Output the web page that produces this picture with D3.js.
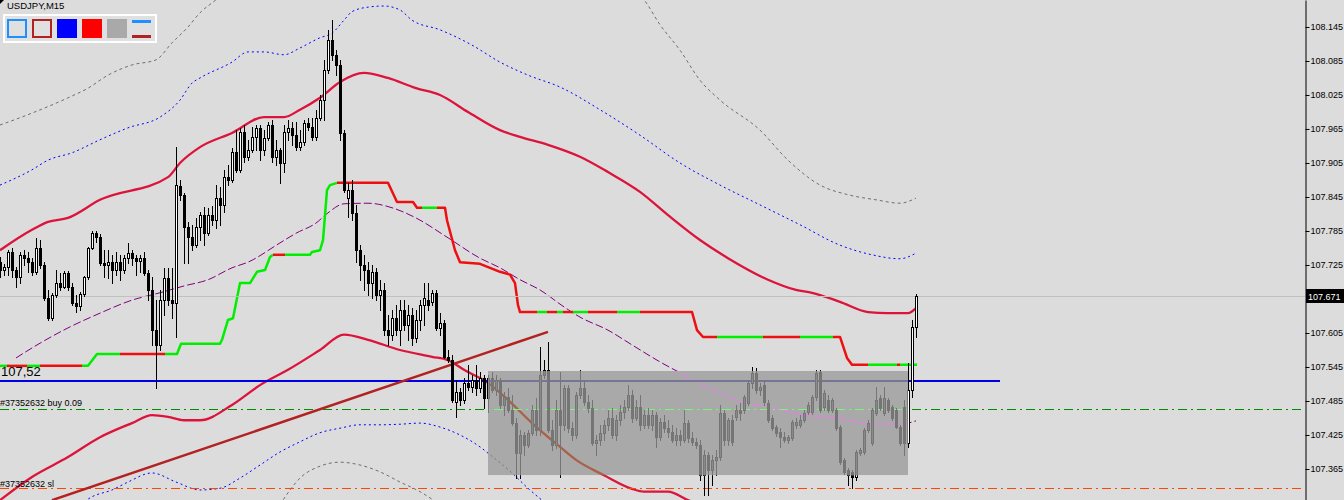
<!DOCTYPE html>
<html><head><meta charset="utf-8">
<script src="https://cdn.jsdelivr.net/npm/d3@7"></script>
<style>html,body{margin:0;padding:0;background:#dcdcdc;overflow:hidden}svg{display:block}</style>
</head><body><svg id="c" width="1344" height="500"></svg>
<script>
// ---------- DATA ----------
const symbolTitle = "USDJPY,M15";
// candles: [open, high, low, close], one per M15 bar
const candles = [
[107.730,107.739,107.704,107.716],[107.716,107.727,107.707,107.721],[107.721,107.751,107.707,107.748],[107.748,107.755,107.704,107.716],[107.716,107.721,107.686,107.704],
[107.704,107.748,107.693,107.743],[107.743,107.751,107.725,107.737],[107.737,107.748,107.713,107.730],[107.730,107.737,107.707,107.713],[107.713,107.773,107.709,107.755],
[107.755,107.769,107.720,107.725],[107.725,107.730,107.663,107.667],[107.667,107.681,107.628,107.631],[107.631,107.676,107.628,107.672],[107.672,107.716,107.668,107.693],
[107.693,107.711,107.681,107.686],[107.686,107.714,107.684,107.711],[107.711,107.714,107.681,107.686],[107.686,107.693,107.654,107.658],[107.658,107.672,107.642,107.653],
[107.653,107.677,107.646,107.674],[107.674,107.706,107.670,107.704],[107.704,107.757,107.700,107.755],[107.755,107.785,107.753,107.781],[107.781,107.785,107.766,107.774],
[107.774,107.780,107.725,107.729],[107.729,107.751,107.704,107.725],[107.725,107.751,107.702,107.730],[107.730,107.743,107.693,107.716],[107.716,107.748,107.707,107.730],
[107.730,107.743,107.699,107.716],[107.716,107.743,107.711,107.737],[107.737,107.764,107.729,107.746],[107.746,107.751,107.725,107.737],[107.737,107.743,107.707,107.732],
[107.732,107.743,107.713,107.737],[107.737,107.748,107.707,107.711],[107.711,107.716,107.663,107.681],[107.681,107.704,107.584,107.610],[107.610,107.663,107.508,107.584],
[107.584,107.681,107.575,107.663],[107.663,107.720,107.637,107.702],[107.702,107.720,107.654,107.663],[107.663,107.720,107.631,107.658],[107.658,107.933,107.598,107.866],
[107.864,107.875,107.840,107.849],[107.849,107.852,107.729,107.792],[107.792,107.801,107.729,107.774],[107.774,107.796,107.751,107.760],[107.760,107.808,107.757,107.792],
[107.792,107.819,107.769,107.813],[107.813,107.827,107.760,107.781],[107.781,107.826,107.778,107.813],[107.813,107.829,107.796,107.804],[107.804,107.866,107.790,107.843],
[107.843,107.863,107.796,107.831],[107.831,107.893,107.819,107.880],[107.880,107.901,107.866,107.875],[107.875,107.931,107.871,107.924],[107.924,107.963,107.889,107.893],
[107.893,107.967,107.889,107.960],[107.960,107.972,107.907,107.916],[107.916,107.946,107.910,107.928],[107.928,107.968,107.924,107.951],[107.951,107.972,107.928,107.967],
[107.967,107.972,107.910,107.928],[107.928,107.963,107.919,107.949],[107.949,107.977,107.946,107.972],[107.972,107.981,107.907,107.916],[107.916,107.946,107.901,107.928],
[107.928,107.931,107.870,107.905],[107.905,107.972,107.889,107.960],[107.960,107.981,107.946,107.967],[107.967,107.977,107.937,107.954],[107.954,107.977,107.928,107.933],
[107.933,107.963,107.928,107.942],[107.942,107.981,107.937,107.975],[107.975,107.984,107.963,107.968],[107.968,107.984,107.946,107.951],[107.951,107.999,107.946,107.984],
[107.984,108.025,107.981,108.016],[108.016,108.087,107.981,108.069],[108.069,108.140,108.064,108.122],[108.122,108.157,108.087,108.096],[108.096,108.104,108.060,108.078],
[108.078,108.087,107.946,107.958],[107.958,107.963,107.854,107.857],[107.843,107.870,107.810,107.857],[107.857,107.875,107.804,107.817],[107.817,107.831,107.730,107.751],
[107.751,107.760,107.699,107.725],[107.725,107.743,107.681,107.716],[107.716,107.730,107.672,107.693],[107.693,107.725,107.667,107.713],[107.713,107.720,107.663,107.672],
[107.672,107.699,107.646,107.681],[107.681,107.693,107.602,107.610],[107.610,107.637,107.584,107.602],[107.602,107.646,107.593,107.631],[107.631,107.654,107.602,107.610],
[107.610,107.663,107.584,107.646],[107.646,107.663,107.610,107.619],[107.619,107.654,107.593,107.637],[107.637,107.649,107.584,107.596],[107.596,107.646,107.589,107.628],
[107.628,107.663,107.610,107.654],[107.654,107.693,107.619,107.667],[107.663,107.693,107.646,107.654],[107.660,107.681,107.654,107.676],[107.676,107.681,107.610,107.614],
[107.614,107.640,107.602,107.623],[107.623,107.628,107.561,107.563],[107.563,107.575,107.554,107.557],[107.557,107.566,107.483,107.487],[107.483,107.522,107.457,107.501],
[107.501,107.508,107.478,107.487],[107.487,107.526,107.481,107.517],[107.517,107.549,107.504,107.510],[107.510,107.531,107.501,107.522],[107.522,107.549,107.496,107.508],
[107.508,107.536,107.501,107.526],[107.526,107.531,107.473,107.490],[107.490,107.531,107.466,107.526],[107.526,107.536,107.501,107.504],[107.504,107.531,107.496,107.522],
[107.522,107.526,107.473,107.478],[107.478,107.501,107.460,107.492],[107.492,107.508,107.466,107.469],[107.469,107.496,107.443,107.446],[107.446,107.455,107.349,107.393],
[107.393,107.434,107.349,107.425],[107.425,107.430,107.390,107.407],[107.407,107.434,107.404,107.429],[107.429,107.478,107.425,107.469],[107.469,107.490,107.425,107.434],
[107.434,107.580,107.425,107.531],[107.531,107.557,107.526,107.540],[107.540,107.589,107.430,107.434],[107.434,107.451,107.399,107.407],[107.407,107.487,107.402,107.469],
[107.469,107.536,107.351,107.443],[107.443,107.513,107.434,107.508],[107.508,107.513,107.430,107.437],[107.437,107.448,107.416,107.425],[107.425,107.501,107.420,107.496],
[107.496,107.540,107.490,107.508],[107.508,107.522,107.478,107.483],[107.483,107.496,107.466,107.473],[107.473,107.487,107.407,107.411],[107.411,107.425,107.390,107.416],
[107.416,107.443,107.407,107.429],[107.429,107.451,107.416,107.443],[107.443,107.469,107.434,107.455],[107.455,107.473,107.420,107.425],[107.425,107.460,107.416,107.451],
[107.451,107.478,107.443,107.466],[107.466,107.487,107.455,107.474],[107.474,107.513,107.469,107.496],[107.496,107.504,107.448,107.455],[107.455,107.487,107.451,107.474],
[107.474,107.496,107.434,107.443],[107.443,107.469,107.437,107.460],[107.460,107.473,107.437,107.443],[107.443,107.469,107.434,107.460],[107.460,107.466,107.404,107.421],
[107.421,107.455,107.416,107.448],[107.448,107.460,107.430,107.437],[107.437,107.451,107.421,107.430],[107.430,107.443,107.413,107.416],[107.416,107.437,107.407,107.425],
[107.425,107.434,107.407,107.416],[107.416,107.469,107.413,107.446],[107.446,107.451,107.413,107.420],[107.420,107.430,107.407,107.413],[107.413,107.420,107.402,107.407],
[107.407,107.416,107.346,107.354],[107.354,107.399,107.319,107.390],[107.390,107.395,107.319,107.363],[107.363,107.390,107.337,107.381],[107.381,107.399,107.354,107.386],
[107.386,107.478,107.381,107.464],[107.464,107.469,107.407,107.416],[107.416,107.455,107.407,107.451],[107.451,107.460,107.407,107.413],[107.457,107.478,107.451,107.469],
[107.469,107.481,107.451,107.464],[107.469,107.496,107.464,107.492],[107.481,107.522,107.478,107.517],[107.517,107.545,107.508,107.534],[107.534,107.543,107.499,107.504],
[107.504,107.517,107.496,107.510],[107.513,107.522,107.478,107.483],[107.481,107.487,107.448,107.451],[107.455,107.460,107.434,107.437],[107.439,107.443,107.423,107.429],
[107.430,107.437,107.404,107.421],[107.421,107.430,107.413,107.416],[107.416,107.425,107.411,107.421],[107.420,107.451,107.416,107.448],[107.443,107.455,107.437,107.448],
[107.443,107.460,107.439,107.451],[107.451,107.469,107.448,107.464],[107.466,107.483,107.462,107.478],[107.466,107.496,107.462,107.492],[107.492,107.540,107.487,107.534],
[107.536,107.540,107.466,107.469],[107.474,107.504,107.469,107.499],[107.487,107.496,107.466,107.469],[107.469,107.490,107.466,107.487],[107.469,107.473,107.434,107.437],
[107.439,107.443,107.374,107.377],[107.381,107.384,107.356,107.360],[107.363,107.367,107.337,107.354],[107.360,107.363,107.331,107.351],[107.351,107.399,107.346,107.395],
[107.393,107.402,107.390,107.399],[107.395,107.437,107.391,107.434],[107.434,107.451,107.430,107.446],[107.411,107.473,107.407,107.469],[107.464,107.510,107.460,107.487],
[107.490,107.496,107.469,107.473],[107.464,107.510,107.460,107.490],[107.487,107.490,107.466,107.469],[107.474,107.478,107.451,107.455],[107.469,107.473,107.437,107.439],
[107.439,107.443,107.407,107.411],[107.474,107.487,107.390,107.411],[107.411,107.552,107.404,107.504],[107.504,107.628,107.492,107.616],[107.616,107.674,107.598,107.671]
];
// indicator lines: [bar index, price]
const grayUpL = [[0,107.972],[8,107.993],[17,108.020],[22,108.037],[27,108.060],[33,108.078],[39,108.087],[43,108.117],[47,108.145],[50,108.170],[54,108.193],[59,108.224]];
const grayUpR = [[157,108.219],[161,108.193],[165,108.149],[170,108.104],[175,108.051],[180,108.016],[190,107.963],[197,107.910],[205,107.866],[212,107.849],[219,107.840],[225,107.834],[229,107.843]];
const grayLow = [[70,107.302],[75,107.349],[80,107.370],[85,107.377],[90,107.372],[95,107.360],[100,107.342],[105,107.325],[109,107.307]];
const blueUp = [[0,107.866],[8,107.893],[12,107.910],[18,107.923],[25,107.946],[32,107.967],[40,107.986],[45,108.016],[48,108.046],[50,108.055],[58,108.083],[62,108.101],[66,108.101],[71,108.096],[75,108.108],[80,108.126],[83,108.134],[86,108.157],[88,108.172],[92,108.180],[96,108.182],[100,108.175],[103,108.157],[110,108.140],[118,108.113],[125,108.083],[132,108.060],[140,108.039],[150,107.999],[160,107.954],[170,107.905],[180,107.866],[190,107.831],[200,107.796],[210,107.760],[218,107.743],[225,107.736],[229,107.746]];
const blueLow = [[20,107.302],[23,107.316],[28,107.328],[32,107.342],[38,107.358],[44,107.342],[50,107.328],[55,107.331],[60,107.349],[65,107.372],[70,107.395],[75,107.413],[80,107.429],[85,107.437],[90,107.443],[95,107.443],[100,107.444],[105,107.446],[110,107.439],[115,107.425],[120,107.404],[122,107.393],[128,107.358],[132,107.331],[136,107.307]];
const crimUp = [[0,107.751],[8,107.787],[12,107.801],[17,107.808],[25,107.840],[42,107.880],[45,107.905],[50,107.933],[58,107.958],[66,107.986],[71,107.986],[75,107.999],[80,108.020],[85,108.048],[91,108.064],[97,108.055],[104,108.037],[110,108.025],[117,107.995],[125,107.963],[130,107.951],[137,107.937],[145,107.916],[152,107.889],[160,107.854],[167,107.813],[175,107.769],[182,107.737],[192,107.699],[199,107.681],[203,107.676],[210,107.660],[217,107.642],[222,107.640],[227,107.640],[229,107.649]];
const crimLow = [[0,107.310],[8,107.351],[17,107.386],[25,107.421],[33,107.446],[38,107.460],[42,107.457],[46,107.451],[50,107.451],[58,107.478],[65,107.513],[72,107.540],[80,107.575],[86,107.602],[92,107.593],[100,107.575],[108,107.563],[112,107.557],[116,107.540],[122,107.517],[127,107.487],[133,107.446],[140,107.404],[144,107.381],[151,107.354],[158,107.330],[161,107.325],[167,107.325],[172,107.310],[175,107.302]];
const purpleMA = [[4,107.561],[10,107.587],[17,107.614],[25,107.640],[33,107.663],[40,107.676],[46,107.688],[52,107.699],[58,107.720],[62,107.730],[70,107.764],[74,107.781],[79,107.799],[82,107.817],[86,107.833],[92,107.834],[98,107.826],[104,107.808],[112,107.773],[120,107.737],[125,107.720],[130,107.699],[135,107.681],[141,107.651],[145,107.633],[152,107.610],[158,107.584],[165,107.554],[175,107.517],[180,107.499],[187,107.480],[192,107.476],[197,107.466],[202,107.459],[208,107.457],[214,107.448],[218,107.444],[225,107.444],[229,107.450]];
// stepped trailing line: [bar index, price, colour of the segment that starts here]
const stepLine = [[0,107.547,'g'],[1.75,107.547,'r'],[6.75,107.547,'g'],[10,107.547,'r'],[20.5,107.547,'g'],[22,107.547,'g'],[24.25,107.568,'g'],[30,107.568,'r'],[41.25,107.568,'g'],[44.25,107.568,'g'],[45.25,107.586,'g'],[55,107.586,'g'],[55.5,107.593,'g'],[57,107.628,'g'],[58.25,107.631,'g'],[60,107.693,'g'],[62.5,107.693,'g'],[64.25,107.713,'g'],[66.25,107.716,'g'],[67.5,107.739,'g'],[68.25,107.743,'r'],[71.25,107.743,'g'],[77.5,107.743,'g'],[78,107.748,'g'],[80,107.751,'g'],[80.75,107.769,'g'],[81.75,107.857,'g'],[82.5,107.866,'g'],[84.25,107.870,'r'],[97,107.870,'r'],[99.25,107.836,'r'],[103.25,107.836,'r'],[104.25,107.826,'r'],[105.5,107.826,'g'],[109.25,107.826,'r'],[111.25,107.826,'r'],[111.75,107.804,'r'],[113.75,107.751,'r'],[115,107.730,'r'],[120,107.727,'r'],[122.5,107.720,'r'],[125,107.713,'r'],[127.5,107.708,'r'],[128.75,107.693,'r'],[129.5,107.654,'r'],[130,107.642,'r'],[134.25,107.642,'g'],[136.75,107.642,'r'],[139.25,107.642,'g'],[140.75,107.642,'r'],[143.25,107.642,'g'],[147,107.642,'r'],[154.25,107.642,'g'],[160,107.642,'r'],[173,107.642,'r'],[174.25,107.610,'r'],[175.75,107.598,'r'],[179.25,107.598,'g'],[190.75,107.598,'r'],[200,107.598,'g'],[208.25,107.598,'r'],[210,107.598,'r'],[211.75,107.561,'r'],[213,107.549,'r'],[217,107.549,'g'],[224.25,107.549,'r'],[225,107.549,'g'],[229.25,107.549,'g']];
// objects
const trendLine = [[13,107.310],[137,107.607]];
const blueLevel = {price:107.52, from:0, to:250, label:"107,52"};
const buyLevel = {price:107.47, label:"#37352632 buy 0.09"};
const slLevel = {price:107.33, label:"#37352632 sl"};
const lastPrice = 107.671;
const zoneBars = [122, 227];
const zonePrices = [107.538, 107.354];
const axisTicks = [108.145,108.085,108.025,107.965,107.905,107.845,107.785,107.725,107.605,107.545,107.485,107.425,107.365];
const legendItems = ["outline:#1e90ff","outline:#b22222","fill:#0000ff","fill:#ff0000","fill:#a9a9a9","lines:#1e90ff:#b22222"];

// ---------- SCALES ----------
const svg = d3.select('#c');
const x = d3.scaleLinear().domain([0, 229]).range([0, 916]);
const y = d3.scaleLinear().domain([107.3103, 108.1926]).range([500, 0]);
const AXX = 1305;
const FONT = "'Liberation Sans', Arial, sans-serif";

svg.append('rect').attr('width',1344).attr('height',500).attr('fill','#dcdcdc');
const defs = svg.append('defs');
defs.append('clipPath').attr('id','plotclip').append('rect').attr('x',0).attr('y',0).attr('width',AXX).attr('height',500);
const zx0 = x(zoneBars[0]), zx1 = x(zoneBars[1]), zy0 = y(zonePrices[0]), zy1 = y(zonePrices[1]);
defs.append('clipPath').attr('id','zoneclip').append('rect').attr('x',zx0).attr('y',zy0).attr('width',zx1-zx0).attr('height',zy1-zy0);

const ident = c => c;
const xorc = c => { if (c === 'none') return c; const k = d3.rgb(c); return d3.rgb(k.r ^ 117, k.g ^ 117, k.b ^ 117).formatHex(); };

function drawPlot(g, col) {
  const lin = d3.line().x(d => x(d[0])).y(d => y(d[1]));
  const smooth = d3.line().x(d => x(d[0])).y(d => y(d[1])).curve(d3.curveMonotoneX);
  const path = (data, gen, color, w, dash) => g.append('path').attr('d', gen(data)).attr('fill','none')
      .attr('stroke', col(color)).attr('stroke-width', w).attr('stroke-dasharray', dash || null);
  // envelopes
  path(grayUpL, smooth, '#6e6e6e', 1, '3,3');
  path(grayUpR, smooth, '#6e6e6e', 1, '3,3');
  path(grayLow, smooth, '#6e6e6e', 1, '3,3');
  path(blueUp, smooth, '#0000ff', 1, '2,3');
  path(blueLow, smooth, '#0000ff', 1, '2,3');
  path(purpleMA, smooth, '#800080', 1, '8,3');
  path(crimUp, smooth, '#dc143c', 2.3);
  path(crimLow, smooth, '#dc143c', 2.3);
  // stepped line, grouped into colour runs
  let run = [stepLine[0]];
  for (let k = 1; k < stepLine.length; k++) {
    run.push(stepLine[k]);
    if (k === stepLine.length - 1 || stepLine[k][2] !== run[0][2]) {
      path(run, lin, run[0][2] === 'g' ? '#00ee00' : '#ee1010', 2.5).attr('stroke-linejoin','round');
      run = [stepLine[k]];
    }
  }
  // horizontal lines
  const hl = g.append('g').attr('shape-rendering','crispEdges');
  hl.append('line').attr('x1',0).attr('x2',AXX).attr('y1',Math.round(y(lastPrice))+0.5).attr('y2',Math.round(y(lastPrice))+0.5)
    .attr('stroke',col('#c0c0c0')).attr('stroke-width',1);
  const yb = Math.floor(y(buyLevel.price)) + 0.5;
  hl.append('line').attr('x1',0).attr('x2',AXX).attr('y1',yb).attr('y2',yb).attr('stroke',col('#008c00')).attr('stroke-width',1).attr('stroke-dasharray','9,4,2,4');
  const ys = Math.floor(y(slLevel.price)) + 0.5;
  hl.append('line').attr('x1',0).attr('x2',AXX).attr('y1',ys).attr('y2',ys).attr('stroke',col('#ff4500')).attr('stroke-width',1).attr('stroke-dasharray','9,4,2,4');
  const yl = Math.round(y(blueLevel.price));
  hl.append('line').attr('x1',x(blueLevel.from)).attr('x2',x(blueLevel.to)).attr('y1',yl).attr('y2',yl).attr('stroke',col('#0000e0')).attr('stroke-width',2);
  // trend line
  path(trendLine, lin, '#b22222', 2.5);
  // candles
  const cg = g.append('g').attr('shape-rendering','crispEdges');
  candles.forEach((c, i) => {
    const [o, h, l, cl] = c;
    const cx = Math.round(x(i));
    cg.append('line').attr('x1',cx+0.5).attr('x2',cx+0.5).attr('y1',Math.round(y(h))).attr('y2',Math.round(y(l))+1).attr('stroke',col('#000000'));
    const t = Math.round(y(Math.max(o, cl))), b = Math.round(y(Math.min(o, cl)));
    if (b - t < 1) {
      cg.append('line').attr('x1',cx-1).attr('x2',cx+2).attr('y1',t+0.5).attr('y2',t+0.5).attr('stroke',col('#000000'));
    } else {
      cg.append('rect').attr('x',cx-0.5).attr('y',t+0.5).attr('width',2).attr('height',b-t)
        .attr('fill', col(cl >= o ? '#ffffff' : '#000000')).attr('stroke', col('#000000'));
    }
  });
}

const plot = svg.append('g').attr('clip-path','url(#plotclip)');
drawPlot(plot, ident);
// highlighted zone (xor-style rectangle)
const zone = svg.append('g').attr('clip-path','url(#zoneclip)');
zone.append('rect').attr('x',zx0).attr('y',zy0).attr('width',zx1-zx0).attr('height',zy1-zy0).attr('fill','#a9a9a9');
drawPlot(zone, xorc);

// labels on chart
svg.append('text').attr('x',1).attr('y',Math.round(y(blueLevel.price))-5).attr('font-family',FONT).attr('font-size',13).attr('fill','#000').text(blueLevel.label);
svg.append('text').attr('x',0).attr('y',Math.round(y(buyLevel.price))-3).attr('font-family',FONT).attr('font-size',9).attr('fill','#000').text(buyLevel.label);
svg.append('text').attr('x',0).attr('y',Math.round(y(slLevel.price))-2).attr('font-family',FONT).attr('font-size',9).attr('fill','#000').text(slLevel.label);

// right price axis
const ax = svg.append('g').attr('transform',`translate(${AXX+0.5},0)`)
  .call(d3.axisRight(y).tickValues(axisTicks).tickSize(4).tickSizeOuter(0).tickPadding(1).tickFormat(d3.format('.3f')));
ax.select('.domain').attr('stroke','#000');
ax.selectAll('.tick line').attr('stroke','#000');
ax.selectAll('text').attr('font-family',FONT).attr('font-size',9).attr('fill','#000');
const ly = Math.round(y(lastPrice));
svg.append('rect').attr('x',AXX+1).attr('y',ly-7).attr('width',1344-AXX-1).attr('height',14).attr('fill','#000');
svg.append('text').attr('x',AXX+3).attr('y',ly+3.5).attr('font-family',FONT).attr('font-size',9).attr('fill','#fff').text(d3.format('.3f')(lastPrice));

// title
svg.append('path').attr('d','M0,0L4,0L0,4Z').attr('fill','#000');
svg.append('text').attr('x',7).attr('y',9).attr('font-family',FONT).attr('font-size',9.5).attr('fill','#000').text(symbolTitle);

// legend panel
const lg = svg.append('g');
lg.append('rect').attr('x',4).attr('y',15).attr('width',152).attr('height',27).attr('fill','#e0e0e0').attr('stroke','#fff').attr('stroke-width',2);
legendItems.forEach((s, k) => {
  const p = s.split(':'); const lx = 8 + k * 25;
  if (p[0] === 'outline') lg.append('rect').attr('x',lx).attr('y',20).attr('width',18).attr('height',17).attr('fill','none').attr('stroke',p[1]).attr('stroke-width',2);
  else if (p[0] === 'fill') lg.append('rect').attr('x',lx-1).attr('y',19).attr('width',20).attr('height',19).attr('fill',p[1]);
  else {
    lg.append('rect').attr('x',lx-1).attr('y',20).attr('width',19).attr('height',3).attr('fill',p[1]);
    lg.append('rect').attr('x',lx-1).attr('y',35).attr('width',19).attr('height',3).attr('fill',p[2]);
  }
});
</script>
</body></html>
